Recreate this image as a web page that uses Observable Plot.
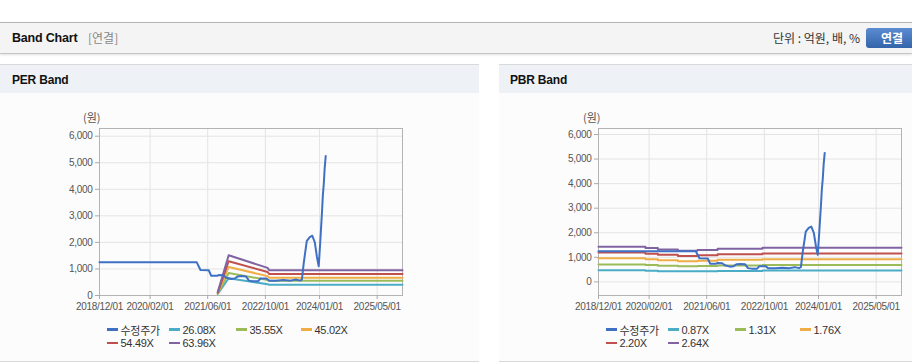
<!DOCTYPE html>
<html><head><meta charset="utf-8">
<script src="https://cdn.jsdelivr.net/npm/d3@7"></script>
<script src="https://cdn.jsdelivr.net/npm/@observablehq/plot@0.6"></script>
<style>
html,body{margin:0;padding:0;background:#fff;width:912px;height:364px;overflow:hidden;font-family:"Liberation Sans",Arial,"Noto Sans CJK KR",sans-serif;}
#root{position:relative;width:912px;height:364px;}
.abs{position:absolute;white-space:nowrap;}
.topbar{position:absolute;left:0;top:22px;width:912px;height:30px;background:#f4f4f4;border-top:1px solid #b5b5b5;border-bottom:1px solid #c6c6c6;box-shadow:0 1px 2px rgba(0,0,0,0.12);}
.phead{position:absolute;top:64px;height:28px;background:#eef2f7;border-top:1px solid #d9d9d9;}
.pbody{position:absolute;top:93px;height:268px;background:#fcfcfc;border-bottom:1px solid #d9d9d9;}
.bold{font-weight:bold;color:#111;font-size:12.5px;letter-spacing:-0.2px;}
.btn{position:absolute;left:866px;top:28px;width:56px;height:20px;border-radius:3px;background:linear-gradient(#5b8bd0,#3464a9);color:#fff;font-weight:bold;font-size:12px;line-height:20px;padding-left:15px;box-sizing:border-box;font-family:"Noto Sans CJK KR",sans-serif;}
.unit{font-size:12px;color:#333;font-family:"Noto Sans CJK KR","Liberation Sans",sans-serif;}
.won{font-size:11px;color:#555;font-family:"Noto Sans CJK KR",sans-serif;line-height:14px;}
.legend{position:absolute;display:grid;grid-template-columns:62px 67px 65px auto;grid-auto-rows:13.3px;font-size:11px;color:#333;letter-spacing:-0.3px;}
.legend .it{display:flex;align-items:center;white-space:nowrap;font-family:"Liberation Sans","Noto Sans CJK KR",sans-serif;}
.legend .sw{display:inline-block;width:11px;height:2.5px;margin-right:2.5px;}
.chart{position:absolute;top:100px;}
</style>
</head><body><div id="root">
<div class="topbar"></div>
<div class="abs bold" style="left:12px;top:30px;line-height:16px;">Band Chart</div>
<div class="abs" style="left:88px;top:30px;line-height:16px;font-size:12px;color:#888;font-family:'Noto Sans CJK KR',sans-serif;">[연결]</div>
<div class="abs unit" style="right:52px;top:30px;line-height:16px;">단위 : 억원, 배, %</div>
<div class="btn">연결</div>

<div class="phead" style="left:0;width:479px;"></div>
<div class="phead" style="left:499px;width:413px;"></div>
<div class="pbody" style="left:0;width:479px;"></div>
<div class="pbody" style="left:499px;width:413px;"></div>
<div class="abs bold" style="left:12px;top:72px;line-height:16px;font-size:12px;">PER Band</div>
<div class="abs bold" style="left:510px;top:72px;line-height:16px;font-size:12px;">PBR Band</div>
<div class="abs won" style="left:83px;top:110px;">(원)</div>
<div class="abs won" style="left:583px;top:110px;">(원)</div>
<div id="perChart" class="chart" style="left:0;"></div>
<div id="pbrChart" class="chart" style="left:499px;"></div>
<div id="perLegend" class="legend" style="left:107px;top:323px;"></div>
<div id="pbrLegend" class="legend" style="left:606px;top:323px;"></div>
</div>
<script>
// ---- data ----
const xTickLabels = ["2018/12/01","2020/02/01","2021/06/01","2022/10/01","2024/01/01","2025/05/01"];
const xDomainLabels = ["2018-12-01","2025-12-01"];
const yTicks = [0,1000,2000,3000,4000,5000,6000];

const priceDates = ["2018-12-01","2021-03-01","2021-04-01","2021-06-10","2021-07-01","2021-08-20","2021-09-01","2021-10-10","2021-11-01","2021-12-15","2022-01-15","2022-02-10","2022-03-15","2022-04-20","2022-05-15","2022-06-15","2022-08-01","2022-08-20","2022-10-10","2022-11-01","2023-01-01","2023-03-01","2023-05-01","2023-06-15","2023-07-20","2023-08-05","2023-08-20","2023-09-15","2023-10-10","2023-11-01","2023-11-22","2023-12-10","2023-12-25","2024-01-06","2024-01-21","2024-01-29","2024-02-06","2024-02-13","2024-02-22"];
const priceValues = [1250,1250,960,950,740,740,770,760,680,620,640,720,730,720,560,540,540,640,640,560,560,580,560,600,560,600,1200,2050,2200,2250,2000,1450,1100,1950,3100,3780,4220,4780,5250];

const perLabels = ["수정주가","26.08X","35.55X","45.02X","54.49X","63.96X"];
const perBandDates = ["2021-08-25","2021-11-25","2022-10-20","2022-11-01","2025-12-01"];
const per2608 = [55, 650, 425, 405, 405];
const per3555 = [75, 850, 580, 555, 555];
const per4502 = [90, 1075, 730, 672, 672];
const per5449 = [110, 1290, 885, 808, 808];
const per6396 = [130, 1518, 1040, 955, 955];

const pbrLabels = ["수정주가","0.87X","1.31X","1.76X","2.20X","2.64X"];
const pbrBandDates = ["2018-12-01","2020-01-01","2020-04-15","2020-10-01","2021-03-15","2021-09-01","2022-09-15","2025-12-01"];
const pbr087 = [472, 455, 438, 430, 432, 446, 465, 465];
const pbr131 = [712, 684, 655, 632, 642, 668, 688, 688];
const pbr176 = [960, 918, 880, 845, 862, 900, 926, 926];
const pbr220 = [1195, 1148, 1100, 1058, 1080, 1125, 1155, 1155];
const pbr264 = [1428, 1375, 1320, 1268, 1294, 1346, 1386, 1386];

const colors = ["#3f70c4","#4bacc6","#9bbb59","#f0ad45","#c0504d","#8064a2"];

// ---- build ----
const parse = d3.utcParse("%Y-%m-%d");
const xTickDates = xTickLabels.map(d3.utcParse("%Y/%m/%d"));
const xDomain = xDomainLabels.map(parse);
const zip = (dates, vals) => dates.map((d, i) => ({date: parse(d), value: vals[i]}));

function chart(yDomain, series, width, marginRight, curve) {
  return Plot.plot({
    width, height: 220, marginTop: 28, marginBottom: 25, marginLeft: 99, marginRight,
    style: {background: "transparent", color: "#555", fontSize: "10px", fontFamily: "'Liberation Sans', Arial, sans-serif", letterSpacing: "-0.3px", overflow: "visible"},
    x: {type: "utc", domain: xDomain},
    y: {domain: yDomain},
    marks: [
      Plot.gridX(xTickDates, {stroke: "#e4e4e4", strokeOpacity: 1}),
      Plot.gridY(yTicks, {stroke: "#e4e4e4", strokeOpacity: 1}),
      Plot.frame({stroke: "#b3b3b3"}),
      Plot.axisX({ticks: xTickDates, tickFormat: d3.utcFormat("%Y/%m/%d"), tickSize: 4, tickPadding: 3, stroke: "#aaa", fill: "#555", label: null}),
      Plot.axisY({ticks: yTicks, tickFormat: d3.format(","), tickSize: 4, tickPadding: 3, stroke: "#aaa", fill: "#555", label: null}),
      ...series.slice(1).map((s, i) => Plot.line(s, {x: "date", y: "value", stroke: colors[i + 1], strokeWidth: 2, curve})),
      Plot.line(series[0], {x: "date", y: "value", stroke: colors[0], strokeWidth: 2})
    ]
  });
}

const price = zip(priceDates, priceValues);
const perSeries = [price, zip(perBandDates, per2608), zip(perBandDates, per3555), zip(perBandDates, per4502), zip(perBandDates, per5449), zip(perBandDates, per6396)];
const pbrSeries = [price, zip(pbrBandDates, pbr087), zip(pbrBandDates, pbr131), zip(pbrBandDates, pbr176), zip(pbrBandDates, pbr220), zip(pbrBandDates, pbr264)];

document.getElementById("perChart").appendChild(chart([0, 6290], perSeries, 479, 77, "linear"));
document.getElementById("pbrChart").appendChild(chart([-554, 6244], pbrSeries, 413, 11, "step-after"));

function legend(id, labels) {
  const el = document.getElementById(id);
  labels.forEach((t, i) => {
    const it = document.createElement("div");
    it.className = "it";
    const sw = document.createElement("span");
    sw.className = "sw";
    sw.style.background = colors[i];
    it.appendChild(sw);
    const tx = document.createElement("span");
    tx.textContent = t;
    if (i === 0) tx.style.fontFamily = "'Noto Sans CJK KR', sans-serif";
    it.appendChild(tx);
    el.appendChild(it);
  });
}
legend("perLegend", perLabels);
legend("pbrLegend", pbrLabels);
</script>
</body></html>
